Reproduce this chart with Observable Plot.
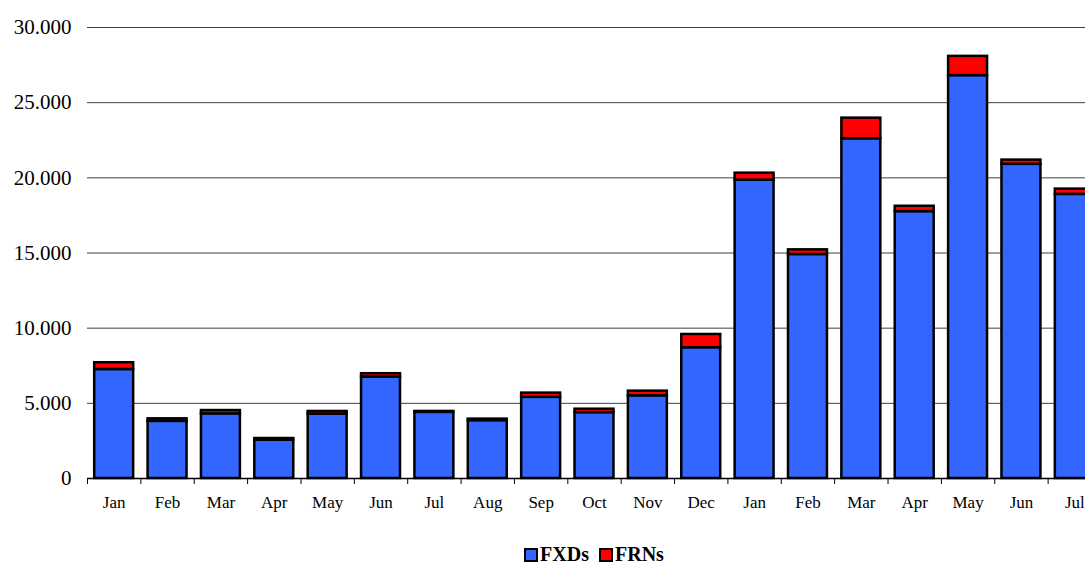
<!DOCTYPE html>
<html>
<head>
<meta charset="utf-8">
<script src="https://cdn.jsdelivr.net/npm/d3@7"></script>
<script src="https://cdn.jsdelivr.net/npm/@observablehq/plot@0.6"></script>
<style>
  html, body { margin: 0; padding: 0; background: #fff; overflow: hidden; }
  #chart svg { display: block; max-width: none !important; }
  .legend {
    position: absolute; left: 0; top: 545px;
    width: 1101px; box-sizing: border-box; padding-left: 87px;
    text-align: center;
    font-family: "Liberation Serif", "Times New Roman", serif;
    font-weight: bold; font-size: 20px; color: #000; line-height: 18px;
    white-space: nowrap;
  }
  .legend span.item { display: inline-block; margin: 0 5px; }
  .legend i {
    display: inline-block; width: 10px; height: 10px; border: 2.5px solid #000;
    vertical-align: -1px; margin-right: 2px;
  }
</style>
</head>
<body>
<div id="chart"></div>
<div class="legend" id="legend"></div>
<script>
// Monthly issuance, fixed-rate (FXDs) and floating-rate (FRNs) notes
const months = ["Jan","Feb","Mar","Apr","May","Jun","Jul","Aug","Sep","Oct","Nov","Dec",
                "Jan","Feb","Mar","Apr","May","Jun","Jul"];
const fxdValues = [7250, 3800, 4300, 2550, 4280, 6750, 4400, 3850, 5400, 4380, 5500, 8700,
                   19850, 14900, 22600, 17750, 26800, 20900, 18900];
const frnValues = [450, 170, 220, 110, 180, 220, 60, 100, 280, 230, 310, 880,
                   460, 310, 1370, 360, 1280, 280, 350];
const seriesNames = ["FXDs", "FRNs"];
const seriesColors = ["#3366FF", "#FF0000"];
const yTicks = [0, 5000, 10000, 15000, 20000, 25000, 30000];

const rows = [];
months.forEach((m, i) => {
  rows.push({i, month: m, series: "FXDs", value: fxdValues[i]});
  rows.push({i, month: m, series: "FRNs", value: frnValues[i]});
});

const n = months.length;
const width = 1101, marginLeft = 87, marginRight = 0;
const step = (width - marginLeft - marginRight) / n;
const fmt = d3.formatLocale({decimal: ",", thousands: ".", grouping: [3], currency: ["", ""]}).format(",d");

const chart = Plot.plot({
  width,
  height: 525,
  marginTop: 27,
  marginBottom: 47,
  marginLeft,
  marginRight,
  style: {fontFamily: "'Liberation Serif', 'Times New Roman', serif", background: "#fff", color: "#000"},
  x: {type: "band", domain: d3.range(n), paddingInner: 0.27, paddingOuter: 0.135, round: false},
  y: {domain: [0, 30000]},
  color: {domain: seriesNames, range: seriesColors},
  marks: [
    Plot.ruleY(yTicks.filter(d => d > 0), {stroke: "#404040", strokeWidth: 1}),
    Plot.barY(rows, {
      x: "i", y: "value", fill: "series", order: seriesNames,
      stroke: "#000", strokeWidth: 2.5
    }),
    Plot.ruleY([0], {stroke: "#000", strokeWidth: 1.5}),
    // category boundary ticks under the baseline
    Plot.ruleX(d3.range(n), {x: d => d, y1: 0, y2: 0, dx: -step / 2, insetBottom: -6, stroke: "#000", strokeWidth: 1}),
    Plot.axisX({tickSize: 0, tickPadding: 17, tickFormat: i => months[i], fontSize: 17, label: null}),
    Plot.axisY({ticks: yTicks, tickSize: 0, tickPadding: 16, tickFormat: fmt, fontSize: 21, label: null})
  ]
});
document.getElementById("chart").appendChild(chart);

const legend = document.getElementById("legend");
seriesNames.forEach((name, k) => {
  const item = document.createElement("span");
  item.className = "item";
  const sw = document.createElement("i");
  sw.style.background = seriesColors[k];
  item.appendChild(sw);
  item.appendChild(document.createTextNode(name));
  legend.appendChild(item);
});
</script>
</body>
</html>
